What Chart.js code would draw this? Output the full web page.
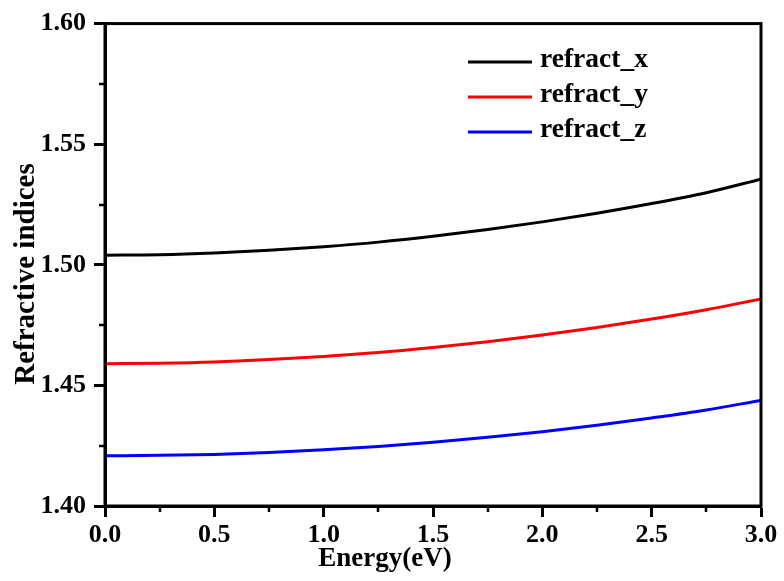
<!DOCTYPE html>
<html>
<head>
<meta charset="utf-8">
<script src="https://cdn.jsdelivr.net/npm/chart.js@4.4.0/dist/chart.umd.min.js"></script>
<style>
  html, body { margin: 0; padding: 0; background: #fff; }
  #wrap { width: 784px; height: 581px; position: relative; }
</style>
</head>
<body>
<div id="wrap"><canvas id="c" width="784" height="581"></canvas></div>
<script>
// ---- data ----
const energy = [0.00, 0.25, 0.50, 0.75, 1.00, 1.25, 1.50, 1.75, 2.00, 2.25, 2.50, 2.75, 3.00];
const refractX = [1.5040, 1.5042, 1.5049, 1.5060, 1.5075, 1.5094, 1.5118, 1.5146, 1.5178, 1.5214, 1.5254, 1.5299, 1.5355];
const refractY = [1.4590, 1.4592, 1.4597, 1.4607, 1.4620, 1.4636, 1.4657, 1.4681, 1.4709, 1.4740, 1.4775, 1.4814, 1.4858];
const refractZ = [1.4208, 1.4210, 1.4214, 1.4222, 1.4233, 1.4247, 1.4264, 1.4285, 1.4308, 1.4335, 1.4365, 1.4398, 1.4438];
const seriesLabels = ['refract_x', 'refract_y', 'refract_z'];
const seriesColors = ['#000000', '#ff0000', '#0000ff'];
const xTickStep = 0.5, yTickStep = 0.05;
const xMin = 0, xMax = 3, yMin = 1.40, yMax = 1.60;
const xTitle = 'Energy(eV)';
const yTitle = 'Refractive indices';

const FONT = '"Liberation Serif", "Times New Roman", serif';
const pts = arr => arr.map((v, i) => ({ x: energy[i], y: v }));

const frameAndMinor = {
  id: 'frameAndMinor',
  afterDraw(chart) {
    const { ctx, chartArea: a, scales } = chart;
    ctx.save();
    ctx.strokeStyle = '#000';
    ctx.lineWidth = 3;
    ctx.strokeRect(a.left, a.top, a.right - a.left, a.bottom - a.top);
    // minor ticks
    ctx.lineWidth = 2.5;
    ctx.beginPath();
    for (let v = xMin + xTickStep / 2; v < xMax; v += xTickStep) {
      const px = Math.round(scales.x.getPixelForValue(v));
      ctx.moveTo(px, a.bottom); ctx.lineTo(px, a.bottom + 6);
    }
    for (let v = yMin + yTickStep / 2; v < yMax; v += yTickStep) {
      const py = Math.round(scales.y.getPixelForValue(v));
      ctx.moveTo(a.left, py); ctx.lineTo(a.left - 6, py);
    }
    ctx.stroke();
    // axis titles
    ctx.fillStyle = '#000';
    ctx.textAlign = 'center';
    ctx.textBaseline = 'middle';
    ctx.font = 'bold 27px ' + FONT;
    ctx.fillText(xTitle, 385, 559);
    ctx.save();
    ctx.translate(27, 274);
    ctx.rotate(-Math.PI / 2);
    ctx.font = 'bold 29px ' + FONT;
    ctx.fillText(yTitle, 0, 0);
    ctx.restore();
    // legend
    const ys = [62, 97, 132];
    chart.data.datasets.forEach((ds, i) => {
      ctx.strokeStyle = ds.borderColor;
      ctx.lineWidth = 3;
      ctx.beginPath();
      ctx.moveTo(468, ys[i]); ctx.lineTo(532, ys[i]);
      ctx.stroke();
      ctx.fillStyle = '#000';
      ctx.font = 'bold 27.5px ' + FONT;
      ctx.textBaseline = 'middle';
      ctx.textAlign = 'left';
      ctx.fillText(ds.label, 540, ys[i] - 2);
    });
    ctx.restore();
  }
};

new Chart(document.getElementById('c'), {
  type: 'line',
  data: {
    datasets: [
      { label: seriesLabels[0], data: pts(refractX), borderColor: seriesColors[0] },
      { label: seriesLabels[1], data: pts(refractY), borderColor: seriesColors[1] },
      { label: seriesLabels[2], data: pts(refractZ), borderColor: seriesColors[2] }
    ].map(d => Object.assign(d, { borderWidth: 3, pointRadius: 0, tension: 0.4, cubicInterpolationMode: 'monotone', fill: false }))
  },
  options: {
    responsive: false,
    animation: false,
    devicePixelRatio: 1,
    layout: { padding: { top: 22, right: 23, left: 0, bottom: 0 } },
    plugins: { legend: { display: false }, tooltip: { enabled: false } },
    scales: {
      x: {
        type: 'linear', min: xMin, max: xMax,
        afterFit(s) { s.height = 75; },
        ticks: { stepSize: xTickStep, color: '#000', padding: 3,
          font: { family: FONT, size: 26, weight: 'bold' },
          callback: v => Number(v).toFixed(1) },
        grid: { drawOnChartArea: false, drawTicks: true, tickLength: 11, tickWidth: 3, tickColor: '#000' },
        border: { color: '#000', width: 3 },
        title: { display: false, text: xTitle }
      },
      y: {
        type: 'linear', min: yMin, max: yMax,
        afterFit(s) { s.width = 105; },
        ticks: { stepSize: yTickStep, color: '#000', padding: 8,
          font: { family: FONT, size: 26, weight: 'bold' },
          callback: v => Number(v).toFixed(2) },
        grid: { drawOnChartArea: false, drawTicks: true, tickLength: 11, tickWidth: 3, tickColor: '#000' },
        border: { color: '#000', width: 3 },
        title: { display: false, text: yTitle }
      }
    }
  },
  plugins: [frameAndMinor]
});
</script>
</body>
</html>
